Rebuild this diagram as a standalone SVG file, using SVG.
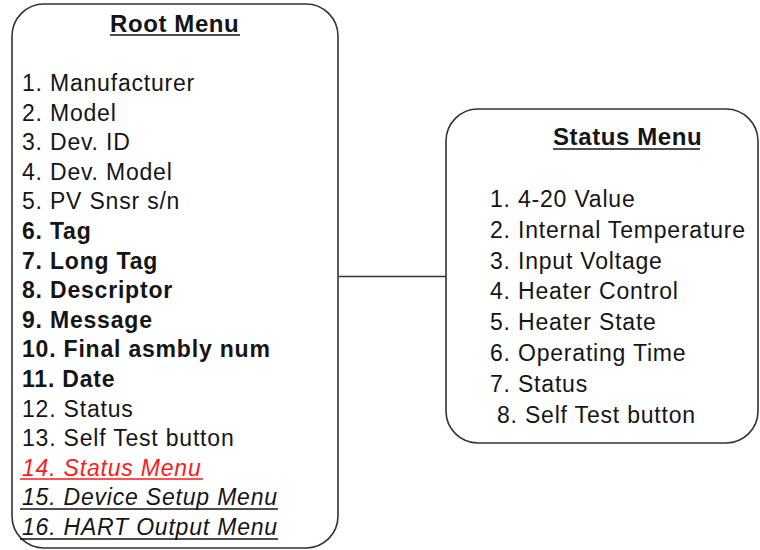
<svg xmlns="http://www.w3.org/2000/svg" width="760" height="550" viewBox="0 0 760 550">
<style>
.box{fill:#fff;stroke:#333;stroke-width:1.6}
.t{font-family:"Liberation Sans",Arial,sans-serif;font-size:23px;fill:#151515;letter-spacing:0.8px}
.b{font-weight:bold}
.i{font-style:italic}
.h{font-family:"Liberation Sans",Arial,sans-serif;font-size:24px;font-weight:bold;fill:#151515;letter-spacing:0.6px}
.ul{stroke:#151515;stroke-width:1.6}
.red{fill:#ff1a1a}
.conn{stroke:#333;stroke-width:1.6;fill:none}
</style>
<rect width="760" height="550" fill="#fff"/>
<g id="connectors">
<line class="conn" x1="339" y1="276.5" x2="446" y2="276.5"/>
</g>
<g id="root-menu">
<rect class="box" x="12" y="4" width="326" height="544" rx="32" ry="32"/>
<text class="h" x="110" y="32">Root Menu</text>
<line class="ul" x1="110" y1="35" x2="240" y2="35"/>
<text class="t" x="22" y="91">1. Manufacturer</text>
<text class="t" x="22" y="120.6">2. Model</text>
<text class="t" x="22" y="150.2">3. Dev. ID</text>
<text class="t" x="22" y="179.8">4. Dev. Model</text>
<text class="t" x="22" y="209.4">5. PV Snsr s/n</text>
<text class="t b" x="22" y="239">6. Tag</text>
<text class="t b" x="22" y="268.6">7. Long Tag</text>
<text class="t b" x="22" y="298.2">8. Descriptor</text>
<text class="t b" x="22" y="327.8">9. Message</text>
<text class="t b" x="22" y="357.4">10. Final asmbly num</text>
<text class="t b" x="22" y="387">11. Date</text>
<text class="t" x="22" y="416.6">12. Status</text>
<text class="t" x="22" y="446.2">13. Self Test button</text>
<text class="t i red" x="22" y="475.8">14.  Status Menu</text>
<line x1="20" y1="479" x2="203" y2="479" stroke="#ff1a1a" stroke-width="1.6"/>
<text class="t i" x="22" y="505.4">15.  Device Setup Menu</text>
<line class="ul" x1="20" y1="509" x2="278" y2="509"/>
<text class="t i" x="22" y="535">16.  HART Output Menu</text>
<line class="ul" x1="20" y1="539" x2="278" y2="539"/>
</g>
<g id="status-menu">
<rect class="box" x="446" y="109" width="312" height="334" rx="32" ry="32"/>
<text class="h" x="553" y="145">Status  Menu</text>
<line class="ul" x1="553" y1="149" x2="700" y2="149"/>
<text class="t" x="490" y="206.6">1. 4-20 Value</text>
<text class="t" x="490" y="237.5">2. Internal Temperature</text>
<text class="t" x="490" y="268.5">3. Input Voltage</text>
<text class="t" x="490" y="299.4">4. Heater Control</text>
<text class="t" x="490" y="330.4">5. Heater State</text>
<text class="t" x="490" y="361.3">6. Operating Time</text>
<text class="t" x="490" y="392.2">7. Status</text>
<text class="t" x="497" y="423.2">8. Self Test button</text>
</g>
</svg>
